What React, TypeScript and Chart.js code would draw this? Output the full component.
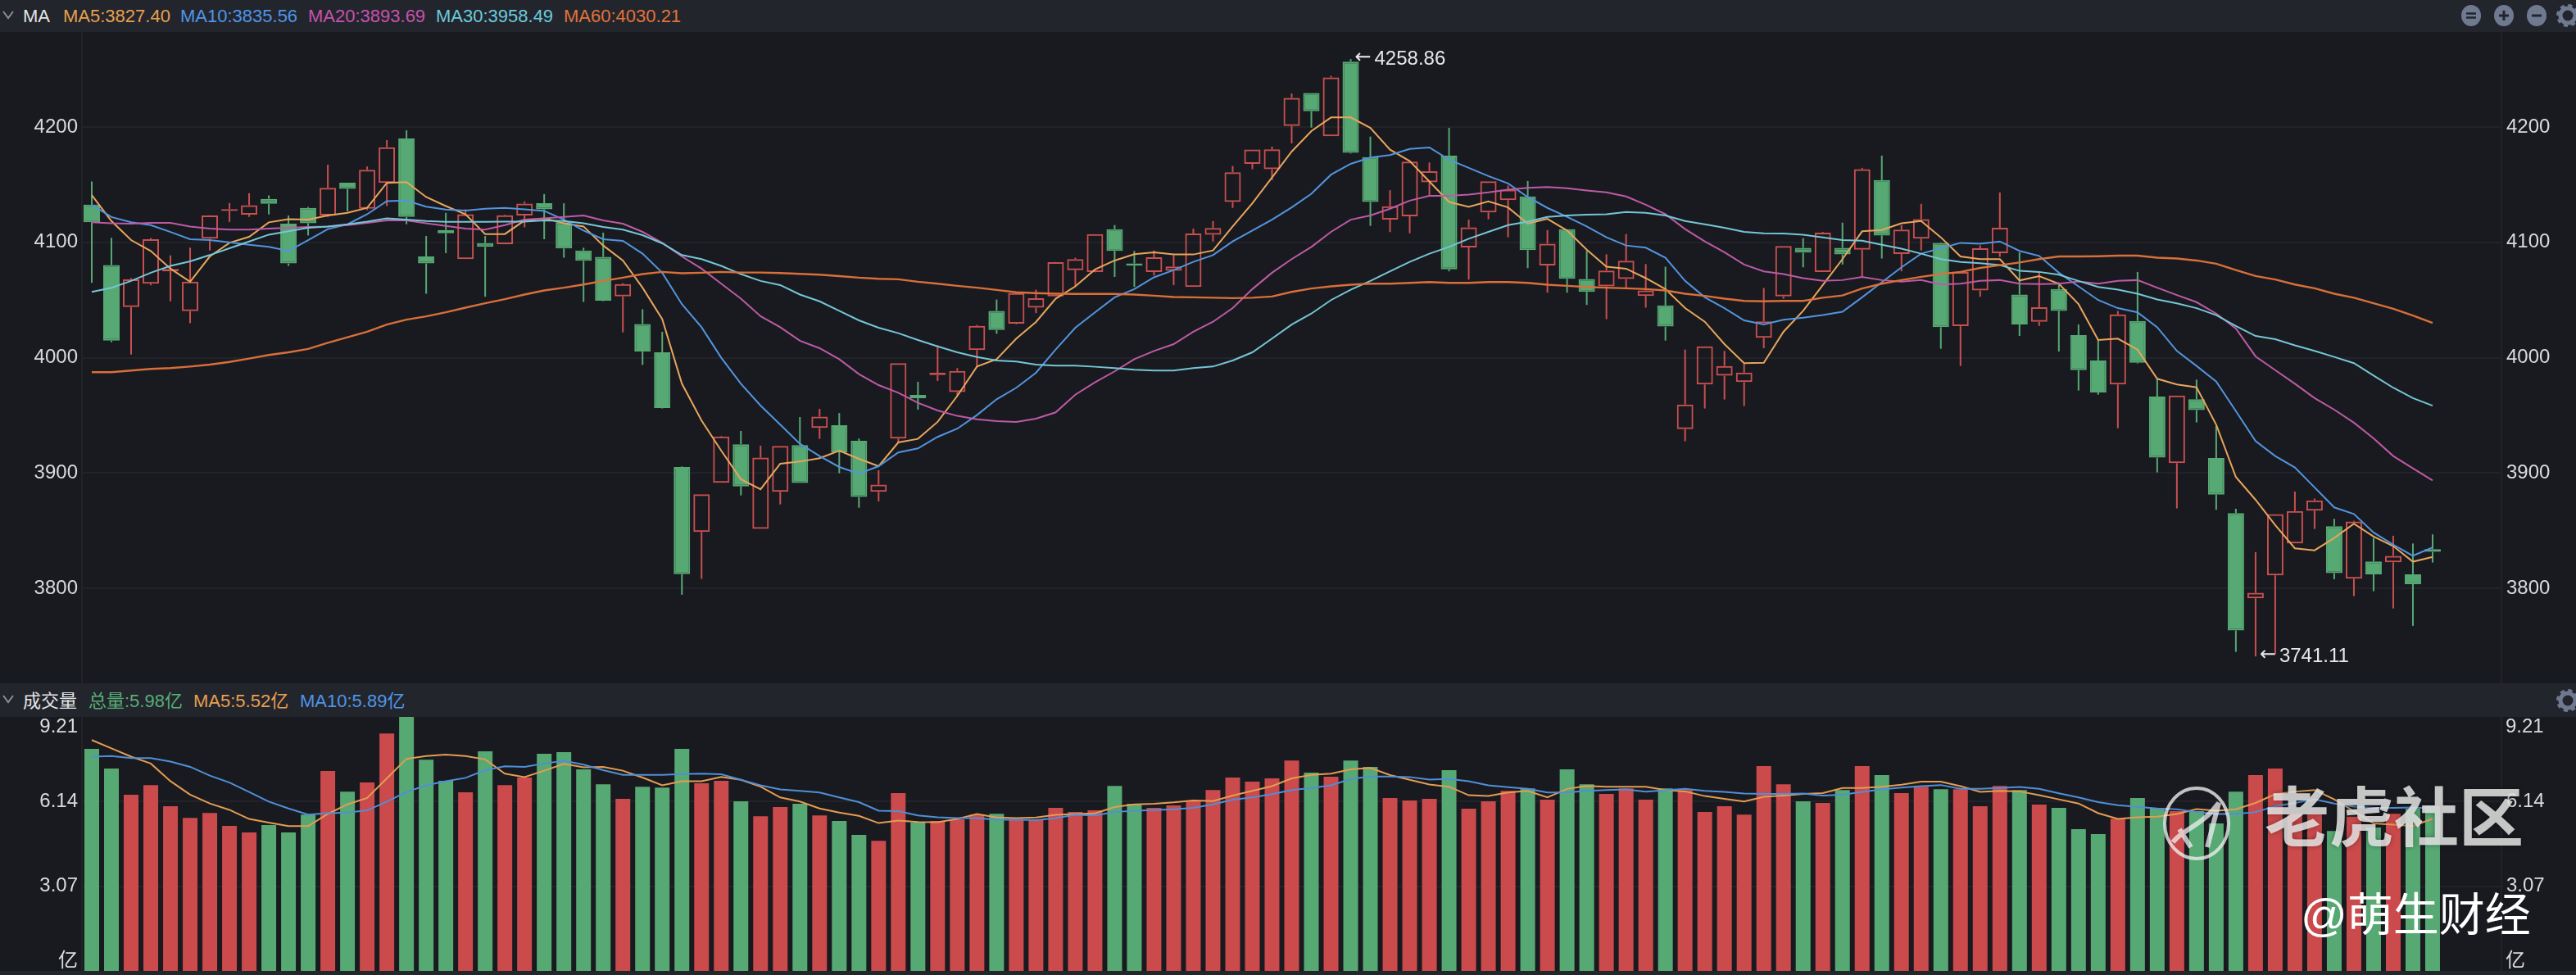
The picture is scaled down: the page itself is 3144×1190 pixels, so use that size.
import React, { useEffect, useRef } from "react";
import { Chart, registerables } from "chart.js";

Chart.register(...registerables);

const candleOpen = [
  4132.7,4080.3,4043.9,4064.2,4074.9,4040.4,4103.2,4127.3,4124,4137.7,
  4116.2,4129.9,4123.3,4151.8,4129.2,4151.6,4190,4087.8,4110.7,4085.5,
  4099.4,4098.5,4123.3,4133.9,4117.4,4093,4087.4,4053.1,4029.3,4004.7,
  3905.3,3849,3891.6,3925,3851.6,3883.8,3924.3,3939.2,3941.5,3928,
  3883.8,3929.9,3967.8,3985,3970.2,4006.6,4040.6,4029.5,4043.4,4053.1,
  4076,4074.4,4111.5,4081.7,4074.4,4075.3,4061.4,4106.7,4135.1,4168.1,
  4163.4,4200.9,4229.5,4192,4256.7,4174,4119.7,4122.6,4152,4175.2,
  4095.6,4126,4136.7,4139.8,4080,4111.5,4068.2,4061.9,4068.2,4053.6,
  4045.3,3938.2,3976.8,3984.4,3978.9,4017.3,4053.1,4095.2,4074.4,4095.2,
  4093.7,4154,4090,4103.2,4099.6,4027.4,4058.3,4090.7,4054.8,4031.2,
  4059.5,4019.6,3997.6,3976.8,4031.9,3966.4,3908.6,3964,3913.1,3865.3,
  3791.5,3811.4,3839,3867.5,3854,3808.5,3823.4,3822.7,3812.3,3834.1,
];
const candleClose = [
  4117.4,4014.9,4068,4102.7,4077,4065.9,4123.3,4128.9,4132.2,4133.4,
  4081.7,4116.6,4147.3,4146.4,4162.9,4182.5,4122,4081.7,4107.9,4124.4,
  4096.1,4123.5,4133.6,4128.7,4094.7,4084,4049.4,4063.8,4005.4,3956.4,
  3812.5,3881.7,3931.8,3888.5,3913.4,3923.6,3891.4,3948.9,3918.1,3879.3,
  3890,3995.3,3965,3987,3988.6,4027.6,4024,4056,4051.5,4082.9,
  4085.5,4107.2,4092.6,4079.8,4087.1,4079.1,4107.7,4112.4,4160.8,4180.4,
  4180.6,4225.3,4213.7,4243,4177.6,4135,4131.3,4170,4161.7,4076.7,
  4113.1,4153,4145.7,4093.3,4098.9,4068.5,4057.1,4075.6,4084,4058.3,
  4027,3959.5,4009.9,3992.9,3987.2,4031.6,4096.8,4091.1,4108.4,4089.5,
  4163.4,4106,4111,4120.2,4026.5,4074.4,4094.9,4112.6,4028.8,4043.7,
  4040.6,3989.3,3969.9,4037.5,3995.7,3913.4,3967.3,3954.6,3881.4,3763.6,
  3796.2,3864.4,3867.2,3876.4,3813.3,3858,3812.3,3828.2,3803.8,3831.7,
];
const candleHigh = [
  4152.8,4103.9,4069,4103.7,4088.8,4095.4,4123.5,4134.1,4142.6,4140.7,
  4123.3,4130.8,4167.4,4151.8,4165.8,4188.7,4197.2,4105.5,4125.6,4128.7,
  4105.5,4124,4135.5,4141.9,4133.9,4095.4,4108.4,4064.7,4042,4022.5,
  3905.8,3881.7,3932.3,3936.6,3923.8,3923.6,3948.6,3955.7,3952.1,3930,
  3902.5,3995.3,3979.2,4010.7,3991,4028.5,4050.5,4056.5,4059,4083,
  4086.7,4107.2,4115,4092.6,4093,4089,4111.9,4118.5,4166.2,4180.4,
  4183,4229,4229.5,4244.4,4258.86,4191.7,4145.2,4170,4169.3,4199.3,
  4119.7,4153,4149.2,4153.2,4110.7,4111.5,4092.6,4089.7,4107.2,4081.2,
  4078.9,4007.1,4010,4005.9,3995.3,4060.5,4096.8,4103.7,4109,4117.1,
  4164.6,4175.2,4115,4133.4,4100,4074.9,4097.3,4143.3,4091.4,4073.7,
  4065.4,4028.8,4015.4,4040.6,4074.4,3982.2,3967.3,3981,3940.8,3869.1,
  3831.5,3864.4,3884,3878,3860.4,3858.7,3843.8,3845.7,3839,3846.9,
];
const candleLow = [
  4065,4013.5,4002.8,4062.8,4048.9,4030,4093,4117.8,4122.1,4124.2,
  4079.6,4106,4122.1,4126.8,4128,4131.5,4115.7,4055.5,4090.7,4085.5,
  4052.9,4098.5,4113.1,4102.7,4086.7,4048.4,4049,4022,3993.8,3956,
  3794.6,3808.3,3891.6,3880.7,3851.6,3872.9,3891.4,3929.7,3899.9,3870,
  3875.5,3926.6,3955,3979.9,3966.9,3991.7,4020.8,4029,4038.7,4053,
  4061.9,4074,4070.1,4061.4,4071.3,4063,4061.4,4100.8,4129.9,4163.4,
  4154,4185.8,4199.5,4192,4177,4114.3,4108.9,4107.9,4141,4074.9,
  4067.8,4120,4104.4,4077.7,4056.4,4056.4,4045.8,4033.5,4060.7,4043.4,
  4014.9,3927.6,3956,3963.8,3958.1,4008.3,4051.2,4078.4,4074.4,4080.8,
  4070.1,4086,4074.9,4093,4007.8,3992.9,4052.9,4087.4,4018.9,4027.6,
  4005.4,3971.6,3968,3938.9,3995,3900.6,3869.4,3943.9,3868.2,3745.1,
  3741.11,3743.2,3839,3851.6,3808,3793.4,3797.6,3782.7,3767.6,3822.5,
];

const ma5 = [
  4141,4118.5,4102,4092.6,4077.2,4065.9,4087.8,4099.6,4104.8,4117.4,
  4120.2,4119.7,4123.3,4125.6,4129.9,4151.6,4152.3,4139.3,4131.5,4124.4,
  4107.2,4107.2,4119,4120.9,4116.6,4113.8,4097.3,4084.3,4060.7,4033.5,
  3977.5,3945.6,3919.5,3894.7,3886,3908.2,3910,3912.9,3919.5,3912.4,
  3906,3926.6,3929.7,3944.4,3966.9,3992.4,3998.8,4016.6,4031,4051.2,
  4061.9,4076.5,4084.3,4089.7,4091.4,4089.5,4089.5,4093,4113.8,4133.9,
  4156.3,4178.7,4196.5,4208.3,4208.3,4199.3,4180.4,4170.5,4152.8,4135,
  4130.8,4135.5,4130.3,4116.2,4120.4,4110.3,4093.7,4078.9,4077.2,4069,
  4059.5,4043,4031.2,4011.8,3995.3,3995.7,4022.5,4040.6,4063,4085.5,
  4109.6,4110.7,4116.6,4118.5,4104.4,4087.8,4085.5,4085.5,4067,4070.8,
  4064.2,4046.5,4015.4,4016.6,4007.1,3981.8,3976.8,3974.4,3942,3896.6,
  3876.9,3855,3834.8,3833.1,3843.8,3856.1,3845,3836.7,3823.2,3827.4,
];
const ma10 = [
  4132.7,4122,4117.4,4115,4109,4102.7,4102,4100.1,4098,4096.1,
  4092.6,4102,4111.5,4115.7,4124.4,4135.8,4136.2,4131,4128.5,4127.5,
  4129.2,4129.9,4128.7,4127.3,4119.7,4110.3,4102.7,4101.3,4090.2,4073.7,
  4046.5,4026.4,4000,3977.5,3958.6,3942,3925.4,3914.8,3905.3,3899.4,
  3906,3917.9,3921.4,3931.4,3938.5,3950.3,3964,3974,3987,4007.1,
  4026,4039.4,4052.4,4059.5,4069.7,4076,4083.1,4089,4100.8,4110.3,
  4119.7,4130.3,4142.1,4158.7,4168.1,4173.6,4175.7,4181,4182.3,4171.7,
  4164.6,4157.5,4151.1,4139.3,4129.9,4122.1,4113.8,4104.4,4097.3,4095.4,
  4086.7,4066.6,4052.4,4043,4032.4,4028.8,4033,4034.7,4037,4039.9,
  4052.4,4065.4,4078.4,4090.2,4094.9,4099.6,4098.9,4100.8,4092.6,4088.3,
  4073.7,4061.9,4050,4043,4039.4,4026.4,4005.9,3992.9,3979.4,3953.8,
  3927.8,3914.8,3904.9,3887.6,3870.3,3864.6,3848.5,3837.9,3828.4,3835.56,
];
const ma20 = [
  4117.4,4116.6,4116.2,4116.9,4116.9,4113.8,4111.9,4111,4111,4111.9,
  4112.6,4113.3,4113.8,4115,4116.9,4119,4119,4116.6,4114.3,4111.9,
  4111,4115,4119.7,4120.9,4122.1,4123.3,4119,4116.2,4109.1,4099.6,
  4087.8,4077.2,4064.2,4051.2,4036,4026.4,4014.7,4008.3,3998.8,3985.8,
  3976.3,3969.7,3960.9,3954.3,3949.6,3946.7,3945.1,3944.4,3947.2,3952.7,
  3968,3978.7,3988.2,3998.8,4005.9,4011.8,4022.5,4031.2,4043,4059.5,
  4073.7,4085.5,4096.1,4109.1,4119.7,4123.3,4129.2,4136.2,4140.3,4140.3,
  4141.4,4143.3,4145.7,4147.3,4148,4146.9,4145,4143.3,4139.8,4132.7,
  4124.4,4111.5,4100.8,4091.4,4080.8,4074.9,4072.5,4069,4066.6,4067.3,
  4070.1,4067.3,4065.9,4067.3,4063.5,4064.2,4066.6,4067.3,4064.2,4063.8,
  4064.2,4066.1,4064.2,4066.6,4067.3,4060.7,4054.3,4048.2,4038.3,4025.3,
  4001.2,3989.3,3977.5,3965,3955,3943.7,3930.2,3914.8,3904.1,3893.69,
];
const ma30 = [
  4057.1,4060.7,4066.6,4073.7,4079.6,4083.6,4089,4094.9,4100.8,4106.7,
  4109.6,4112.6,4113.8,4115.7,4118,4120.9,4119.7,4118.5,4117.8,4117.8,
  4117.8,4118,4118,4119,4118.5,4116.6,4113.3,4111,4106.3,4099.2,
  4089,4085.5,4079.6,4072.5,4066.6,4063,4054.8,4048.9,4040.6,4032.4,
  4026,4021.3,4015.4,4009.9,4004.7,4000.7,3997.6,3996.7,3994.1,3993.1,
  3993.1,3992.2,3991,3989.6,3988.9,3988.9,3991,3992.4,3997.6,4004.7,
  4016.6,4028.8,4038.3,4050,4059,4066.6,4074.9,4083.1,4090.2,4096.1,
  4103.2,4109.1,4115,4118,4122.1,4123.3,4124,4124.4,4126.3,4125.6,
  4123.3,4118.5,4115.7,4112.6,4109.1,4107.9,4107.7,4106.7,4104.4,4102,
  4101.5,4098,4094.5,4090.2,4085.5,4083.1,4082,4080.3,4075.3,4074.4,
  4072,4066.6,4061.4,4059,4055.5,4050.5,4047.2,4043,4037,4027.6,
  4018.9,4016.1,4010.7,4005.9,4000.7,3995.3,3984.6,3974,3965,3958.49,
];
const ma60 = [
  3987.5,3987.5,3988.9,3990.3,3991,3992.4,3994.1,3996.4,3999.3,4002.4,
  4004.7,4007.6,4013,4017.8,4022.5,4028.8,4033,4035.9,4039.4,4043.4,
  4047.2,4050.8,4054.8,4058.3,4060.7,4063.5,4066.6,4069.4,4072.5,4074.4,
  4073.2,4073.7,4074.4,4073.9,4073.9,4073.4,4072.7,4072,4070.8,4069.4,
  4068.5,4068,4065.9,4064.2,4062.3,4060.7,4058.8,4056.7,4056,4055.5,
  4055.3,4055.3,4055.3,4054.8,4053.8,4052.7,4052.4,4052,4051.7,4052,
  4053.1,4057.1,4060,4061.9,4063.3,4064.2,4064.2,4064.9,4065.6,4064.9,
  4064.9,4065.6,4065.6,4064.9,4063.3,4062.3,4061.4,4060.7,4060.2,4059.5,
  4058.3,4055.5,4053.6,4051.2,4049.3,4048.9,4049.3,4049.3,4052,4054,
  4060,4064.2,4067.3,4070.1,4072.5,4074.4,4077.9,4080.3,4082.6,4085.5,
  4087.8,4087.8,4088,4088.5,4088.5,4086.7,4086,4084.3,4081.5,4076,
  4070.8,4067.8,4063.5,4060.2,4055.5,4052,4047.2,4042.5,4036.6,4030.21,
];

const volume = [
  8.05,7.34,6.39,6.74,5.97,5.55,5.73,5.26,5.02,5.29,
  5.02,5.67,7.25,6.5,6.83,8.61,9.21,7.66,6.89,6.48,
  7.96,6.74,7.01,7.87,7.93,7.31,6.77,6.24,6.68,6.65,
  8.05,6.8,6.89,6.15,5.61,5.94,6.06,5.64,5.44,4.93,
  4.72,6.45,5.38,5.44,5.5,5.67,5.7,5.51,5.5,5.91,
  5.76,5.82,6.71,6.06,5.91,6,6.15,6.56,7.01,6.86,
  6.98,7.63,7.19,7.04,7.63,7.4,6.27,6.18,6.24,7.28,
  5.88,6.15,6.53,6.62,6.21,7.31,6.77,6.42,6.62,6.21,
  6.62,6.56,5.76,5.97,5.67,7.43,6.77,6.15,6.09,6.56,
  7.43,7.1,6.45,6.68,6.59,6.59,5.97,6.71,6.56,6.03,
  5.91,5.14,4.96,5.52,6.27,5.88,5.79,5.79,5.35,6.5,
  7.1,7.34,5.69,5.69,5.07,5.59,5.2,5.7,5.89,5.98,
];
const volMa5 = [
  8.37,8.07,7.77,7.52,6.88,6.39,6.07,5.84,5.51,5.38,
  5.25,5.25,5.69,6.04,6.27,6.98,7.69,7.79,7.84,7.79,
  7.67,7.15,7.03,7.26,7.51,7.38,7.4,7.26,7.01,6.73,
  6.88,6.88,7.03,6.93,6.68,6.29,6.14,5.89,5.74,5.62,
  5.36,5.45,5.4,5.39,5.51,5.69,5.56,5.54,5.56,5.66,
  5.69,5.71,5.94,6.04,6.06,6.11,6.18,6.16,6.36,6.53,
  6.7,6.98,7.11,7.15,7.31,7.36,7.1,6.93,6.76,6.68,
  6.37,6.34,6.47,6.53,6.29,6.6,6.71,6.68,6.68,6.68,
  6.56,6.51,6.34,6.24,6.14,6.31,6.36,6.42,6.45,6.63,
  6.63,6.68,6.75,6.86,6.86,6.7,6.49,6.53,6.51,6.37,
  6.22,6.07,5.72,5.51,5.57,5.59,5.69,5.87,5.81,5.86,
  6.09,6.41,6.5,6.56,6.22,5.79,5.35,5.3,5.25,5.52,
];
const volMa10 = [
  7.77,7.79,7.72,7.72,7.59,7.4,7.08,6.83,6.49,6.14,
  5.89,5.67,5.72,5.74,5.82,6.14,6.49,6.73,6.88,7,
  7.28,7.42,7.4,7.52,7.62,7.48,7.28,7.11,7.11,7.11,
  7.14,7.15,7.13,6.93,6.73,6.58,6.53,6.47,6.29,6.12,
  5.81,5.79,5.64,5.57,5.54,5.54,5.48,5.48,5.47,5.54,
  5.66,5.64,5.76,5.81,5.83,5.86,5.91,6.04,6.21,6.29,
  6.41,6.56,6.63,6.73,6.96,7.05,7.05,7.03,6.94,6.96,
  6.88,6.73,6.66,6.6,6.47,6.47,6.53,6.56,6.58,6.5,
  6.55,6.6,6.53,6.49,6.43,6.42,6.42,6.43,6.36,6.39,
  6.49,6.58,6.65,6.7,6.74,6.6,6.6,6.63,6.67,6.6,
  6.44,6.29,6.12,6.01,5.95,5.89,5.86,5.76,5.69,5.69,
  5.76,5.97,6.09,6.22,6.07,5.96,5.91,5.91,5.93,5.89,
];

const priceTicks = [3800, 3900, 4000, 4100, 4200];
const volumeTicks = [3.07, 6.14];
const volumeEnds = [{ value: 9.21, label: "9.21" }, { value: 0, label: "亿" }];
const extremes = [
  { index: 64, value: 4258.86, label: "4258.86" },
  { index: 110, value: 3741.11, label: "3741.11" },
];
const priceHeader = [
  { text: "MA5:3827.40", x: 77, color: "#e7a04f" },
  { text: "MA10:3835.56", x: 220, color: "#4f95e6" },
  { text: "MA20:3893.69", x: 376, color: "#c653ac" },
  { text: "MA30:3958.49", x: 532, color: "#6ccbdc" },
  { text: "MA60:4030.21", x: 688, color: "#e0733a" },
];
const volumeHeader = [
  { text: "总量:5.98亿", x: 108, color: "#58ad76" },
  { text: "MA5:5.52亿", x: 236, color: "#e7a04f" },
  { text: "MA10:5.89亿", x: 366, color: "#4f95e6" },
];

const slots = Array.from({ length: 123 }, (_, i) => String(i + 1));
const FONT = '"Liberation Sans","Noto Sans CJK SC",sans-serif';
const PANEL = "#191a1f";
const HEADER = "#23252d";
const GRID = "#222328";
const RED = "#c95050";
const GREEN = "#57a974";
const VOL_RED = "#cb4a4b";
const TICK = "#d9dadc";
const PLOT_LEFT = 100;
const PLOT_RIGHT_W = 91;

const isRising = candleOpen.map((o, i) => candleClose[i] >= o);
const upper = candleHigh.map((h, i) => [Math.max(candleOpen[i], candleClose[i]), h]);
const lower = candleLow.map((l, i) => [l, Math.min(candleOpen[i], candleClose[i])]);
const bodies = candleOpen.map((o, i) => [Math.min(o, candleClose[i]), Math.max(o, candleClose[i])]);
const wickColors = isRising.map((r) => (r ? RED : GREEN));

const maLine = (data: number[], color: string, order: number, yAxisID: string, width = 2) => ({
  type: "line" as const, data, borderColor: color, borderWidth: width, pointRadius: 0,
  tension: 0, fill: false, order, yAxisID, xAxisID: "x",
});

const makeScales = (min: number, max: number, ticks: number[], fmt: (v: number) => string) => {
  const side = (position: string, w: number, pad: number, grid: boolean) => ({
    position, min, max,
    afterFit: (s: any) => { s.width = w; s.paddingTop = 0; s.paddingBottom = 0; },
    afterBuildTicks: (s: any) => { s.ticks = ticks.map((value) => ({ value })); },
    grid: { display: grid, color: GRID, lineWidth: 2, drawTicks: false },
    border: { display: true, color: "#222328", width: 2 },
    ticks: {
      color: TICK, padding: pad, font: { family: FONT, size: 24 },
      callback: (v: any) => fmt(Number(v)),
    },
  });
  return {
    x: { type: "category", display: false, offset: true, labels: slots },
    y: side("left", PLOT_LEFT, 5, true),
    yr: side("right", PLOT_RIGHT_W, 6, false),
  };
};

const extremePlugin = {
  id: "extremes",
  afterDraw(chart: any) {
    const { ctx, scales } = chart;
    ctx.save();
    ctx.fillStyle = "#e6e7e9";
    ctx.textAlign = "left";
    ctx.textBaseline = "middle";
    extremes.forEach((e) => {
      const x = scales.x.getPixelForValue(e.index);
      const y = scales.y.getPixelForValue(e.value);
      ctx.font = `24px "DejaVu Sans"`;
      ctx.fillText("←", x + 5, y - 1);
      ctx.font = `24px ${FONT}`;
      ctx.fillText(e.label, x + 29, y);
    });
    ctx.restore();
  },
};

const volumeEndPlugin = {
  id: "volumeEnds",
  afterDraw(chart: any) {
    const { ctx, scales } = chart;
    ctx.save();
    ctx.font = `24px ${FONT}`;
    ctx.fillStyle = TICK;
    ctx.textBaseline = "middle";
    volumeEnds.forEach((e) => {
      const y = scales.y.getPixelForValue(e.value) + (e.value > 0 ? 12 : -12);
      ctx.textAlign = "right";
      ctx.fillText(e.label, scales.y.right - 5, y);
      ctx.textAlign = "left";
      ctx.fillText(e.label, scales.yr.left + 5, y);
    });
    ctx.restore();
  },
};

const baseOptions = {
  responsive: false, animation: false as const, devicePixelRatio: 1,
  layout: { padding: 0, autoPadding: false },
  plugins: { legend: { display: false }, tooltip: { enabled: false } },
  events: [] as string[],
};

const Icon = ({ x, y, glyph }: { x: number; y: number; glyph: string }) => (
  <svg style={{ position: "absolute", left: x - 13, top: y - 13 }} width={26} height={26}>
    <ellipse cx={13} cy={13} rx={12} ry={13} fill="#6f7990" />
    {glyph === "eq" && <path d="M7 10.5H19M7 15.5H19" stroke={HEADER} strokeWidth={2.5} />}
    {glyph === "minus" && <path d="M7 13H19" stroke={HEADER} strokeWidth={3} />}
    {glyph === "plus" && <path d="M7 13H19M13 7V19" stroke={HEADER} strokeWidth={3} />}
  </svg>
);

const Gear = ({ x, y }: { x: number; y: number }) => (
  <svg style={{ position: "absolute", left: x - 14, top: y - 14 }} width={28} height={28}>
    <circle cx={14} cy={14} r={9} fill="none" stroke="#6f7990" strokeWidth={5} />
    <circle cx={14} cy={14} r={12} fill="none" stroke="#6f7990" strokeWidth={4} strokeDasharray="5 4.4" />
  </svg>
);

const Chevron = ({ y }: { y: number }) => (
  <svg style={{ position: "absolute", left: 2, top: y - 6 }} width={16} height={12}>
    <path d="M2 2L8 10L14 2" fill="none" stroke="#8b8e96" strokeWidth={2} />
  </svg>
);

const Label = ({ text, x, y, color }: { text: string; x: number; y: number; color: string }) => (
  <span style={{ position: "absolute", left: x, top: y - 14, lineHeight: "28px", fontSize: 22, color, whiteSpace: "nowrap" }}>{text}</span>
);

export default function App() {
  const priceRef = useRef<HTMLCanvasElement>(null);
  const volumeRef = useRef<HTMLCanvasElement>(null);

  useEffect(() => {
    document.body.style.margin = "0";
    document.body.style.background = PANEL;
    const bar = { grouped: false, inflateAmount: 0, borderSkipped: false, xAxisID: "x" };
    const price = new Chart(priceRef.current!, {
      type: "bar",
      data: {
        labels: slots,
        datasets: [
          maLine(ma60, "#d96f3a", 1, "y", 2.4),
          maLine(ma30, "#74c6d6", 2, "y"),
          maLine(ma20, "#bd5aa6", 3, "y"),
          maLine(ma10, "#5294df", 4, "y"),
          maLine(ma5, "#e8a55c", 5, "y"),
          { ...bar, type: "bar", data: upper, backgroundColor: wickColors, barThickness: 2, order: 12, yAxisID: "y" },
          { ...bar, type: "bar", data: lower, backgroundColor: wickColors, barThickness: 2, order: 12, yAxisID: "y" },
          {
            ...bar, type: "bar", data: bodies, barThickness: 20, order: 11, yAxisID: "y",
            backgroundColor: isRising.map((r) => (r ? "rgba(0,0,0,0)" : GREEN)),
            borderColor: wickColors, borderWidth: 2,
          },
        ] as any,
      },
      options: {
        ...baseOptions,
        scales: makeScales(3717.8, 4282.4, priceTicks, (v) => String(v)) as any,
      } as any,
      plugins: [extremePlugin],
    });
    const vol = new Chart(volumeRef.current!, {
      type: "bar",
      data: {
        labels: slots,
        datasets: [
          maLine(volMa10, "#4f8fd8", 1, "y"),
          maLine(volMa5, "#e39c52", 2, "y"),
          {
            ...bar, type: "bar", data: volume, barThickness: 18, order: 10, yAxisID: "y",
            backgroundColor: isRising.map((r) => (r ? VOL_RED : GREEN)),
          },
        ] as any,
      },
      options: {
        ...baseOptions,
        scales: makeScales(0, 9.21, volumeTicks, (v) => v.toFixed(2)) as any,
      } as any,
      plugins: [volumeEndPlugin],
    });
    return () => { price.destroy(); vol.destroy(); };
  }, []);

  return (
    <div style={{ position: "fixed", left: 0, top: 0, width: 3144, height: 1190, overflow: "hidden", background: PANEL, fontFamily: FONT }}>
      <div style={{ position: "absolute", left: 0, top: 0, width: 3144, height: 39, background: HEADER }} />
      <div style={{ position: "absolute", left: 0, top: 834, width: 3144, height: 41, background: HEADER }} />
      <div style={{ position: "absolute", left: 0, top: 1185, width: 3144, height: 5, background: "#22272b" }} />
      <canvas ref={priceRef} width={3144} height={795} style={{ position: "absolute", left: 0, top: 39, display: "block" }} />
      <canvas ref={volumeRef} width={3144} height={310} style={{ position: "absolute", left: 0, top: 875, display: "block" }} />

      <Chevron y={18} />
      <Label text="MA" x={28} y={20} color="#e4e5e7" />
      {priceHeader.map((h) => <Label key={h.text} text={h.text} x={h.x} y={20} color={h.color} />)}
      <Icon x={3016} y={19} glyph="eq" />
      <Icon x={3056} y={19} glyph="plus" />
      <Icon x={3096} y={19} glyph="minus" />
      <Gear x={3134} y={19} />

      <Chevron y={853} />
      <Label text="成交量" x={28} y={856} color="#e4e5e7" />
      {volumeHeader.map((h) => <Label key={h.text} text={h.text} x={h.x} y={856} color={h.color} />)}
      <Gear x={3134} y={855} />

      <svg style={{ position: "absolute", left: 2630, top: 950 }} width={104} height={112}>
        <ellipse cx={51} cy={55} rx={39} ry={43} fill="none" stroke="rgba(235,235,235,0.8)" strokeWidth={4} />
        <path d="M22 78C34 62 58 58 78 30L64 84M30 62L44 84" fill="none" stroke="rgba(240,240,240,0.75)" strokeWidth={6} />
      </svg>
      <div style={{ position: "absolute", left: 2764, top: 952, fontSize: 79, lineHeight: "96px", fontWeight: 700, letterSpacing: 0, color: "rgba(232,232,232,0.84)", textShadow: "0 0 6px rgba(0,0,0,0.35)", whiteSpace: "nowrap" }}>老虎社区</div>
      <div style={{ position: "absolute", left: 2808, top: 1082, fontSize: 56, lineHeight: "70px", color: "#ffffff", whiteSpace: "nowrap" }}>@萌生财经</div>
    </div>
  );
}
